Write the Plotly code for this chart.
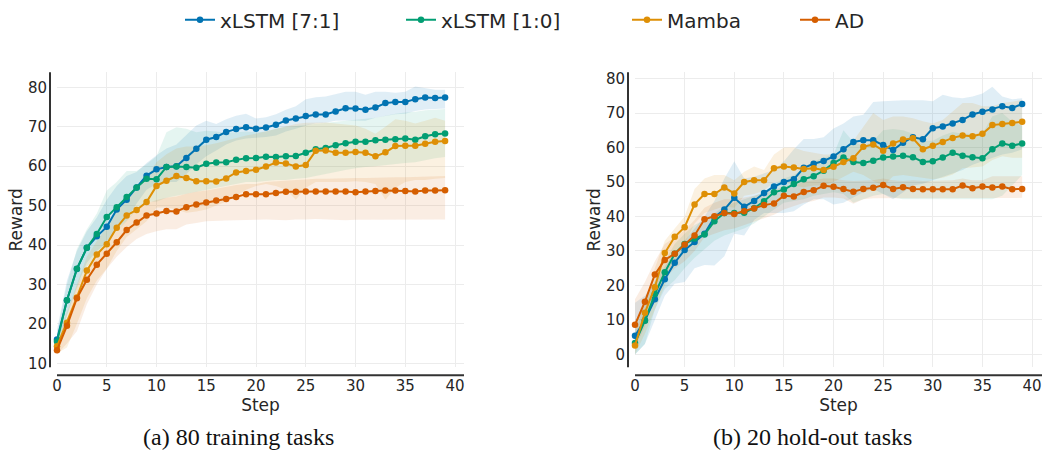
import plotly.graph_objects as go

# ---------------- data ----------------
steps = list(range(40))
series_names = ["xLSTM [7:1]", "xLSTM [1:0]", "Mamba", "AD"]
series_colors = ["#0173b2", "#029e73", "#de8f05", "#d55e00"]
band_colors = ["rgba(1,115,178,0.12)", "rgba(2,158,115,0.10)", "rgba(222,143,5,0.12)", "rgba(213,94,0,0.11)"]

# (a) 80 training tasks
l_blue = [16.0, 26.0, 33.9, 39.3, 42.2, 44.6, 49.0, 51.5, 54.6, 57.6, 59.2, 59.8, 60.0, 62.1, 64.4, 66.7, 67.4, 68.7, 69.4, 69.9,
          69.5, 69.8, 70.5, 71.6, 72.1, 72.7, 73.1, 73.1, 73.9, 74.7, 74.6, 74.3, 74.9, 76.0, 76.3, 76.3, 77.0, 77.4, 77.3, 77.4]
l_blue_lo = [13.5, 22.0, 29.5, 35.5, 38.5, 40.5, 44.0, 46.5, 50.5, 54.0, 55.5, 56.0, 56.0, 58.0, 60.5, 62.5, 64.0, 65.5, 66.5, 67.0,
             67.2, 67.4, 67.8, 68.8, 69.5, 70.3, 70.8, 71.0, 71.5, 71.6, 71.6, 71.5, 72.3, 72.8, 73.2, 73.3, 74.0, 74.4, 74.5, 74.6]
l_blue_hi = [18.5, 31.0, 38.5, 43.5, 47.0, 51.5, 55.0, 57.5, 58.5, 60.8, 62.8, 64.5, 65.5, 67.8, 70.3, 71.5, 70.7, 71.9, 72.8, 73.3,
             72.1, 72.4, 73.2, 74.3, 75.2, 77.0, 77.5, 77.7, 78.3, 78.9, 78.9, 78.1, 78.9, 78.9, 78.6, 78.9, 80.2, 79.8, 79.4, 79.4]

l_green = [15.5, 26.0, 34.0, 39.3, 42.8, 47.1, 49.6, 52.2, 54.6, 56.8, 56.7, 59.8, 59.9, 59.8, 59.6, 60.6, 60.9, 61.0, 61.6, 62.0,
           62.1, 62.4, 62.3, 62.5, 62.6, 63.4, 64.3, 64.6, 65.3, 65.8, 66.2, 66.2, 66.6, 66.7, 66.8, 67.0, 66.7, 67.6, 68.1, 68.3]
l_green_lo = [13.5, 22.0, 29.0, 34.5, 37.5, 41.0, 43.5, 46.0, 49.0, 51.0, 51.0, 52.0, 52.5, 53.0, 53.5, 54.0, 54.5, 55.0, 55.5, 56.0,
              56.0, 56.3, 56.5, 56.5, 56.8, 57.0, 57.5, 58.0, 58.5, 59.0, 59.5, 59.8, 60.0, 60.3, 60.5, 60.8, 61.0, 61.5, 62.0, 62.3]
l_green_hi = [17.5, 30.0, 39.0, 44.0, 48.0, 53.8, 56.0, 58.8, 58.8, 60.5, 62.5, 68.6, 69.9, 69.5, 68.6, 69.0, 68.8, 68.5, 68.6, 68.8,
              68.6, 68.8, 69.5, 70.0, 70.2, 70.5, 70.8, 71.0, 71.3, 71.5, 71.8, 72.0, 72.3, 72.8, 73.3, 73.6, 73.8, 74.2, 74.4, 74.5]

l_orange = [14.3, 20.3, 26.7, 33.5, 37.6, 40.2, 44.4, 47.5, 48.9, 50.9, 55.0, 56.3, 57.5, 57.0, 56.2, 56.2, 56.1, 56.9, 58.4, 58.8,
            59.1, 59.9, 60.9, 60.7, 59.9, 60.3, 63.9, 64.0, 63.4, 63.4, 63.6, 63.4, 62.5, 63.5, 65.1, 65.2, 65.2, 65.7, 66.2, 66.4]
l_orange_lo = [12.5, 14.0, 20.0, 26.5, 31.0, 34.0, 38.5, 42.0, 44.0, 46.0, 49.5, 49.5, 49.0, 48.2, 48.5, 49.0, 50.0, 51.0, 52.5, 54.0,
               55.0, 55.5, 55.0, 54.0, 51.5, 54.5, 56.0, 56.0, 56.0, 56.0, 56.2, 56.0, 55.5, 51.5, 54.5, 56.0, 56.5, 56.5, 56.8, 57.0]
l_orange_hi = [16.0, 23.0, 30.5, 37.0, 41.0, 44.5, 48.5, 52.0, 54.0, 57.0, 61.0, 63.0, 64.5, 65.0, 65.0, 65.3, 65.8, 66.5, 67.2, 67.8,
               68.2, 68.8, 69.5, 70.2, 70.7, 71.0, 71.1, 71.1, 70.8, 70.5, 70.3, 69.5, 68.2, 70.0, 71.9, 71.5, 70.8, 71.5, 72.3, 71.5]

l_red = [13.3, 19.5, 26.5, 31.2, 35.0, 37.8, 40.7, 43.8, 45.7, 47.5, 48.0, 48.6, 48.5, 49.6, 50.3, 50.8, 51.3, 51.7, 52.2, 52.9,
         52.9, 52.9, 53.2, 53.5, 53.5, 53.6, 53.6, 53.6, 53.6, 53.6, 53.4, 53.6, 53.7, 53.8, 53.8, 53.7, 53.6, 53.8, 53.8, 53.9]
l_red_lo = [12.3, 15.0, 18.1, 25.0, 30.0, 34.0, 37.0, 39.5, 41.5, 42.8, 43.5, 44.0, 44.0, 45.2, 45.6, 46.0, 46.1, 46.2, 46.3, 46.4,
            46.4, 46.5, 46.4, 46.3, 46.5, 46.5, 46.6, 46.5, 46.4, 46.3, 46.4, 46.5, 46.4, 46.5, 46.5, 46.4, 46.4, 46.5, 46.5, 46.5]
l_red_hi = [14.5, 21.5, 29.6, 34.0, 37.5, 40.5, 43.5, 46.5, 49.0, 50.5, 51.4, 52.0, 52.3, 53.0, 53.5, 53.8, 54.3, 54.8, 55.2, 55.5,
            55.5, 56.0, 56.2, 56.4, 56.5, 56.6, 56.8, 56.8, 56.9, 57.0, 57.0, 57.0, 57.1, 57.1, 57.2, 57.2, 57.3, 57.4, 57.5, 57.5]

# (b) 20 hold-out tasks
r_blue = [5.4, 9.9, 16.0, 21.8, 26.6, 30.3, 32.6, 35.0, 39.8, 42.0, 45.4, 42.8, 44.5, 46.8, 48.7, 50.0, 50.8, 54.1, 55.3, 56.1,
          57.4, 59.5, 61.6, 62.1, 62.1, 60.7, 59.3, 61.4, 63.0, 62.4, 65.6, 66.1, 67.0, 68.0, 69.6, 70.4, 71.0, 72.0, 71.5, 72.6]
r_blue_lo = [0.0, 3.0, 10.0, 17.0, 20.5, 21.0, 25.0, 25.9, 25.8, 28.5, 35.0, 34.5, 39.0, 41.0, 41.0, 41.0, 41.5, 43.5, 45.0, 45.0,
             43.5, 44.0, 45.5, 47.0, 48.0, 46.5, 45.0, 47.0, 49.0, 49.5, 50.5, 51.5, 52.5, 53.5, 55.0, 56.0, 57.0, 58.0, 58.5, 59.5]
r_blue_hi = [15.0, 17.0, 21.0, 25.5, 29.5, 33.0, 36.5, 40.0, 44.5, 51.0, 56.0, 51.0, 51.5, 52.5, 53.5, 56.0, 59.5, 62.5, 62.5, 63.0,
             65.5, 67.0, 69.0, 69.5, 73.2, 73.4, 73.6, 73.7, 73.7, 73.7, 73.4, 75.3, 74.6, 74.3, 74.8, 75.7, 77.6, 74.8, 74.0, 74.3]

r_green = [3.3, 9.8, 17.5, 23.8, 29.2, 32.0, 33.6, 34.8, 38.6, 41.0, 41.0, 41.1, 42.4, 44.4, 47.0, 47.8, 49.4, 50.8, 51.7, 53.3,
           55.5, 57.1, 55.8, 55.5, 56.2, 57.1, 57.4, 57.6, 57.2, 55.8, 56.0, 57.1, 58.5, 57.6, 57.2, 56.9, 59.5, 61.2, 60.5, 61.2]
r_green_lo = [0.0, 3.0, 13.0, 19.0, 21.5, 25.0, 28.0, 30.5, 33.0, 34.5, 35.5, 36.5, 38.0, 40.0, 42.0, 44.0, 44.5, 45.0, 46.0, 46.5,
              47.0, 46.5, 44.0, 45.0, 46.0, 46.5, 45.5, 45.0, 45.0, 45.0, 45.0, 45.0, 45.0, 45.0, 45.0, 45.0, 45.0, 46.0, 49.0, 52.0]
r_green_hi = [8.0, 15.0, 21.5, 27.0, 32.0, 35.0, 37.5, 39.0, 41.0, 43.0, 44.0, 45.0, 46.0, 47.0, 49.5, 51.0, 52.0, 54.0, 56.0, 57.0,
              58.0, 65.0, 61.6, 60.5, 62.0, 65.0, 65.4, 65.0, 64.0, 62.0, 62.0, 63.5, 64.5, 64.0, 64.0, 64.0, 69.1, 70.0, 67.5, 66.3]

r_orange = [2.6, 12.1, 19.5, 29.4, 34.1, 36.9, 43.5, 46.5, 46.5, 48.4, 46.7, 50.0, 50.5, 50.5, 54.0, 54.5, 54.2, 53.8, 54.0, 53.5,
            54.4, 55.8, 56.9, 60.2, 60.9, 59.1, 61.2, 62.3, 62.7, 59.5, 60.5, 61.6, 62.8, 63.5, 63.3, 64.0, 66.5, 66.8, 67.1, 67.5]
r_orange_lo = [0.0, 6.0, 13.0, 20.0, 27.0, 32.0, 38.0, 41.0, 42.0, 43.0, 42.5, 46.0, 46.5, 47.5, 50.0, 50.0, 49.0, 48.5, 49.0, 49.0,
               50.0, 51.5, 53.0, 52.0, 50.3, 48.9, 51.7, 52.0, 51.7, 51.2, 50.8, 51.2, 52.2, 54.0, 54.2, 54.5, 56.4, 57.5, 57.0, 57.0]
r_orange_hi = [6.0, 15.0, 25.0, 33.0, 36.5, 40.0, 48.0, 51.0, 52.0, 52.0, 50.5, 53.0, 54.5, 53.5, 58.0, 60.0, 60.0, 59.0, 58.5, 58.0,
               58.0, 59.0, 62.0, 66.0, 70.0, 68.0, 69.0, 69.0, 68.5, 67.6, 67.0, 68.0, 70.5, 72.9, 72.9, 72.0, 72.0, 72.9, 73.3, 73.8]

r_red = [8.6, 15.3, 23.2, 27.4, 29.2, 31.9, 34.5, 39.2, 40.1, 41.0, 40.7, 41.5, 42.3, 43.3, 43.8, 46.0, 45.8, 47.1, 47.6, 48.9,
         48.6, 48.0, 47.2, 48.0, 48.3, 49.1, 48.0, 48.5, 48.0, 47.9, 47.9, 47.9, 47.9, 49.0, 48.2, 48.7, 48.4, 48.7, 47.9, 48.0]
r_red_lo = [2.0, 8.0, 17.0, 22.0, 25.0, 27.0, 30.0, 34.0, 35.0, 36.0, 36.5, 37.5, 38.5, 39.5, 40.5, 42.0, 43.0, 44.0, 44.5, 45.5,
            45.5, 45.2, 43.7, 45.0, 45.3, 45.5, 45.3, 45.4, 45.4, 45.4, 45.4, 45.4, 45.4, 45.4, 45.4, 45.4, 45.4, 45.4, 45.4, 45.4]
r_red_hi = [16.0, 21.0, 27.0, 32.0, 34.0, 36.0, 39.0, 42.5, 44.0, 45.0, 45.0, 45.5, 46.0, 47.0, 47.5, 49.0, 49.0, 50.0, 50.5, 51.0,
            51.0, 50.5, 50.3, 50.5, 50.5, 51.0, 50.5, 50.3, 50.5, 50.3, 50.3, 50.3, 50.5, 51.0, 50.5, 50.5, 51.7, 51.7, 51.7, 51.7]

x_ticks = [0, 5, 10, 15, 20, 25, 30, 35, 40]
left_y_ticks = [10, 20, 30, 40, 50, 60, 70, 80]
right_y_ticks = [0, 10, 20, 30, 40, 50, 60, 70, 80]
x_title = "Step"
y_title = "Reward"
captions = ["(a) 80 training tasks", "(b) 20 hold-out tasks"]

panels = [
    dict(xa="x", ya="y",
         means=[l_blue, l_green, l_orange, l_red],
         los=[l_blue_lo, l_green_lo, l_orange_lo, l_red_lo],
         his=[l_blue_hi, l_green_hi, l_orange_hi, l_red_hi]),
    dict(xa="x2", ya="y2",
         means=[r_blue, r_green, r_orange, r_red],
         los=[r_blue_lo, r_green_lo, r_orange_lo, r_red_lo],
         his=[r_blue_hi, r_green_hi, r_orange_hi, r_red_hi]),
]

# ---------------- layout geometry (pixels) ----------------
W, H = 1046, 454
def px(v):
    return v / W
def py(v):
    return 1 - v / H

PLOT_TOP, PLOT_BOT = 62, 365
L_LEFT, L_RIGHT = 57, 464
R_LEFT, R_RIGHT = 635, 1042

fig = go.Figure()
legend_ids = ["legend", "legend2", "legend3", "legend4"]

for p_i, p in enumerate(panels):
    for k in range(4):
        fig.add_trace(go.Scatter(
            x=steps + steps[::-1], y=p["his"][k] + p["los"][k][::-1],
            fill="toself", fillcolor=band_colors[k], line=dict(width=0),
            mode="lines", hoverinfo="skip", showlegend=False,
            xaxis=p["xa"], yaxis=p["ya"]))
    for k in range(4):
        fig.add_trace(go.Scatter(
            x=steps, y=p["means"][k], mode="lines+markers",
            name=series_names[k],
            line=dict(color=series_colors[k], width=2),
            marker=dict(color=series_colors[k], size=6.5),
            cliponaxis=False,
            showlegend=(p_i == 0), legend=legend_ids[k],
            xaxis=p["xa"], yaxis=p["ya"]))

tick_font = dict(family="DejaVu Sans", size=15, color="#262626")
title_font = dict(family="DejaVu Sans", size=17, color="#262626")
grid_color = "#ececec"

common_x = dict(tickvals=x_ticks, showgrid=True, gridcolor=grid_color, gridwidth=1,
                zeroline=False, showline=False, ticks="", tickfont=tick_font,
                ticklabelstandoff=8, automargin=False,
                title=dict(text=x_title, font=title_font, standoff=0))
common_y = dict(showgrid=True, gridcolor=grid_color, gridwidth=1,
                zeroline=False, showline=False, ticks="", tickfont=tick_font,
                ticklabelstandoff=9, automargin=False,
                title=dict(text=y_title, font=title_font, standoff=0))

fig.update_layout(
    width=W, height=H,
    margin=dict(l=0, r=0, t=0, b=0),
    paper_bgcolor="white", plot_bgcolor="white",
    xaxis=dict(domain=[px(L_LEFT), px(L_RIGHT)], range=[0, 40.9], anchor="y", **common_x),
    yaxis=dict(domain=[py(PLOT_BOT), py(PLOT_TOP)], range=[8.96, 83.8], tickvals=left_y_ticks, anchor="x", **common_y),
    xaxis2=dict(domain=[px(R_LEFT), px(R_RIGHT)], range=[0, 41.0], anchor="y2", **common_x),
    yaxis2=dict(domain=[py(PLOT_BOT), py(PLOT_TOP)], range=[-3.75, 81.8], tickvals=right_y_ticks, anchor="x2", **common_y),
    showlegend=True,
)

# legends: one entry each, laid out in a row on top
legend_item_x = [180, 401, 627, 795]
leg_font = dict(family="DejaVu Sans", size=20, color="#262626")
for lid, lx in zip(legend_ids, legend_item_x):
    fig.update_layout(**{lid: dict(x=px(lx), y=py(8), xanchor="left", yanchor="middle",
                                   orientation="h", font=leg_font, bgcolor="rgba(0,0,0,0)",
                                   borderwidth=0)})

# offset (despined) axis lines
axis_col = "#333333"
shapes = []
for left, right, yline_x in [(L_LEFT, L_RIGHT, 50), (R_LEFT, R_RIGHT, 628)]:
    shapes.append(dict(type="line", xref="paper", yref="paper",
                       x0=px(yline_x), x1=px(yline_x), y0=py(PLOT_TOP), y1=py(PLOT_BOT),
                       line=dict(color=axis_col, width=2)))
    shapes.append(dict(type="line", xref="paper", yref="paper",
                       x0=px(left), x1=px(right), y0=py(373), y1=py(373),
                       line=dict(color=axis_col, width=2)))
fig.update_layout(shapes=shapes)

for cap, cx in zip(captions, [238, 812]):
    fig.add_annotation(text=cap, x=px(cx), y=py(437), xref="paper", yref="paper",
                       xanchor="center", yanchor="middle", showarrow=False,
                       font=dict(family="Liberation Serif", size=24, color="#111111"))

fig.write_html("out.html",
               config={"displayModeBar": False},
               post_script="document.body.style.margin='0';document.body.style.overflow='hidden';")
